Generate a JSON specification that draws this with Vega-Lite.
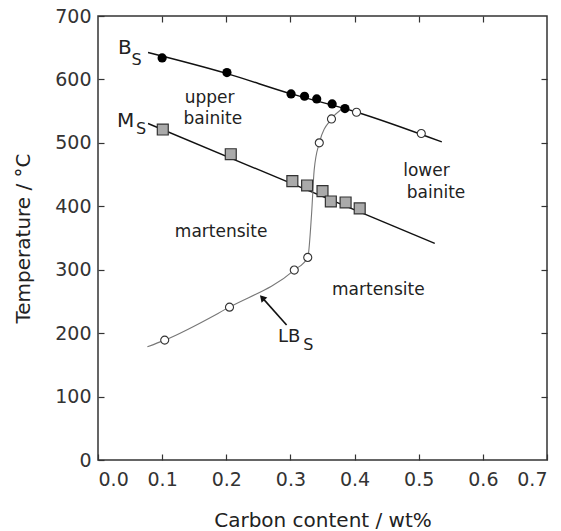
{
  "$schema": "https://vega.github.io/schema/vega-lite/v6.json",
  "width": 449,
  "height": 444,
  "autosize": "none",
  "padding": {"left": 98, "top": 16, "right": 14, "bottom": 71},
  "background": "white",
  "config": {
    "view": {"stroke": "#333", "strokeWidth": 1.5},
    "axis": {
      "domain": false,
      "grid": false,
      "tickColor": "#333",
      "tickSize": -6,
      "tickWidth": 1.2,
      "labelFont": "DejaVu Sans",
      "labelFontSize": 19,
      "labelColor": "#333",
      "titleFont": "DejaVu Sans",
      "titleFontSize": 20,
      "titleFontWeight": "normal",
      "titleColor": "#222"
    }
  },
  "datasets": {
    "bsLine": [
      {"c": 0.078, "t": 642.4},
      {"c": 0.2, "t": 609.5},
      {"c": 0.3, "t": 577.5},
      {"c": 0.4, "t": 549.5},
      {"c": 0.536, "t": 501.5}
    ],
    "msLine": [
      {"c": 0.078, "t": 530.5},
      {"c": 0.525, "t": 341.4}
    ],
    "lbsLine": [
      {"c": 0.077, "t": 178.5},
      {"c": 0.104, "t": 189},
      {"c": 0.205, "t": 241},
      {"c": 0.306, "t": 299.4},
      {"c": 0.327, "t": 319.4},
      {"c": 0.333, "t": 388.7},
      {"c": 0.337, "t": 457},
      {"c": 0.345, "t": 500},
      {"c": 0.364, "t": 537.7},
      {"c": 0.379, "t": 552.5}
    ],
    "bsPts": [
      {"c": 0.100, "t": 633.9},
      {"c": 0.201, "t": 610.8},
      {"c": 0.301, "t": 577.1},
      {"c": 0.322, "t": 573.5},
      {"c": 0.341, "t": 569.3},
      {"c": 0.365, "t": 561.4},
      {"c": 0.385, "t": 554.1}
    ],
    "msPts": [
      {"c": 0.101, "t": 521},
      {"c": 0.207, "t": 482.1},
      {"c": 0.303, "t": 439.6},
      {"c": 0.326, "t": 432.8},
      {"c": 0.350, "t": 423.8},
      {"c": 0.363, "t": 407.6},
      {"c": 0.386, "t": 406},
      {"c": 0.408, "t": 396.6}
    ],
    "openPts": [
      {"c": 0.104, "t": 189},
      {"c": 0.205, "t": 241},
      {"c": 0.306, "t": 299.4},
      {"c": 0.327, "t": 319.4},
      {"c": 0.345, "t": 500},
      {"c": 0.364, "t": 537.7},
      {"c": 0.403, "t": 548.3},
      {"c": 0.504, "t": 514.7}
    ],
    "regions": [
      {"c": 0.174, "t": 570, "label": "upper"},
      {"c": 0.179, "t": 538, "label": "bainite"},
      {"c": 0.512, "t": 455, "label": "lower"},
      {"c": 0.527, "t": 421, "label": "bainite"},
      {"c": 0.192, "t": 359.7, "label": "martensite"},
      {"c": 0.437, "t": 267.8, "label": "martensite"}
    ],
    "bigLetters": [
      {"c": 0.042, "t": 649, "label": "B"},
      {"c": 0.043, "t": 534.6, "label": "M"}
    ],
    "lbLetters": [
      {"c": 0.298, "t": 194, "label": "LB"}
    ],
    "subs": [
      {"c": 0.060, "t": 630, "label": "S"},
      {"c": 0.067, "t": 522.6, "label": "S"},
      {"c": 0.328, "t": 181, "label": "S"}
    ],
    "arrow": [
      {"c": 0.294, "t": 212.7, "c2": 0.256, "t2": 256}
    ],
    "arrowHead": [
      {"c": 0.256, "t": 256}
    ]
  },
  "resolve": {"axis": {"x": "independent", "y": "independent"}},
  "layer": [
    {
      "data": {"name": "bsLine"},
      "mark": {"type": "line", "color": "#111", "strokeWidth": 1.4, "interpolate": "monotone"},
      "encoding": {
        "x": {"field": "c", "type": "quantitative", "scale": {"domain": [0, 0.7], "nice": false},
          "axis": {"orient": "bottom", "title": "Carbon content / wt%", "values": [0, 0.1, 0.2, 0.3, 0.4, 0.5, 0.6, 0.7], "format": ".1f", "labelPadding": 16, "titlePadding": 21}},
        "y": {"field": "t", "type": "quantitative", "scale": {"domain": [0, 700], "nice": false},
          "axis": {"orient": "left", "title": "Temperature / °C", "values": [0, 100, 200, 300, 400, 500, 600, 700], "labelPadding": 13, "titlePadding": 21}}
      }
    },
    {
      "data": {"name": "bsLine"},
      "mark": {"type": "line", "opacity": 0},
      "encoding": {
        "x": {"field": "c", "type": "quantitative", "axis": {"orient": "top", "labels": false, "title": null, "values": [0.1, 0.2, 0.3, 0.4, 0.5, 0.6]}},
        "y": {"field": "t", "type": "quantitative", "axis": {"orient": "right", "labels": false, "title": null, "values": [100, 200, 300, 400, 500, 600]}}
      }
    },
    {
      "data": {"name": "msLine"},
      "mark": {"type": "line", "color": "#111", "strokeWidth": 1.4},
      "encoding": {
        "x": {"field": "c", "type": "quantitative", "axis": null},
        "y": {"field": "t", "type": "quantitative", "axis": null}
      }
    },
    {
      "data": {"name": "lbsLine"},
      "mark": {"type": "line", "color": "#777", "strokeWidth": 1.1, "interpolate": "monotone"},
      "encoding": {
        "x": {"field": "c", "type": "quantitative", "axis": null},
        "y": {"field": "t", "type": "quantitative", "axis": null}
      }
    },
    {
      "data": {"name": "bsPts"},
      "mark": {"type": "point", "shape": "circle", "filled": true, "color": "#000", "size": 85, "opacity": 1},
      "encoding": {
        "x": {"field": "c", "type": "quantitative", "axis": null},
        "y": {"field": "t", "type": "quantitative", "axis": null}
      }
    },
    {
      "data": {"name": "msPts"},
      "mark": {"type": "point", "shape": "square", "filled": true, "fill": "#aaa", "stroke": "#333", "strokeWidth": 1.2, "size": 120, "opacity": 1},
      "encoding": {
        "x": {"field": "c", "type": "quantitative", "axis": null},
        "y": {"field": "t", "type": "quantitative", "axis": null}
      }
    },
    {
      "data": {"name": "openPts"},
      "mark": {"type": "point", "shape": "circle", "filled": true, "fill": "white", "stroke": "#333", "strokeWidth": 1.1, "size": 65, "opacity": 1},
      "encoding": {
        "x": {"field": "c", "type": "quantitative", "axis": null},
        "y": {"field": "t", "type": "quantitative", "axis": null}
      }
    },
    {
      "data": {"name": "regions"},
      "mark": {"type": "text", "font": "DejaVu Sans", "fontSize": 17, "color": "#222", "align": "center", "baseline": "middle"},
      "encoding": {
        "x": {"field": "c", "type": "quantitative", "axis": null},
        "y": {"field": "t", "type": "quantitative", "axis": null},
        "text": {"field": "label"}
      }
    },
    {
      "data": {"name": "bigLetters"},
      "mark": {"type": "text", "font": "DejaVu Sans", "fontSize": 20, "color": "#222", "align": "center", "baseline": "middle"},
      "encoding": {
        "x": {"field": "c", "type": "quantitative", "axis": null},
        "y": {"field": "t", "type": "quantitative", "axis": null},
        "text": {"field": "label"}
      }
    },
    {
      "data": {"name": "lbLetters"},
      "mark": {"type": "text", "font": "DejaVu Sans", "fontSize": 18, "color": "#222", "align": "center", "baseline": "middle"},
      "encoding": {
        "x": {"field": "c", "type": "quantitative", "axis": null},
        "y": {"field": "t", "type": "quantitative", "axis": null},
        "text": {"field": "label"}
      }
    },
    {
      "data": {"name": "subs"},
      "mark": {"type": "text", "font": "DejaVu Sans", "fontSize": 16, "color": "#222", "align": "center", "baseline": "middle"},
      "encoding": {
        "x": {"field": "c", "type": "quantitative", "axis": null},
        "y": {"field": "t", "type": "quantitative", "axis": null},
        "text": {"field": "label"}
      }
    },
    {
      "data": {"name": "arrow"},
      "mark": {"type": "rule", "color": "#111", "strokeWidth": 1.6},
      "encoding": {
        "x": {"field": "c", "type": "quantitative", "axis": null},
        "y": {"field": "t", "type": "quantitative", "axis": null},
        "x2": {"field": "c2"},
        "y2": {"field": "t2"}
      }
    },
    {
      "data": {"name": "arrowHead"},
      "mark": {"type": "point", "shape": "triangle-up", "filled": true, "color": "#111", "size": 60, "angle": 318, "opacity": 1},
      "encoding": {
        "x": {"field": "c", "type": "quantitative", "axis": null},
        "y": {"field": "t", "type": "quantitative", "axis": null}
      }
    }
  ]
}
